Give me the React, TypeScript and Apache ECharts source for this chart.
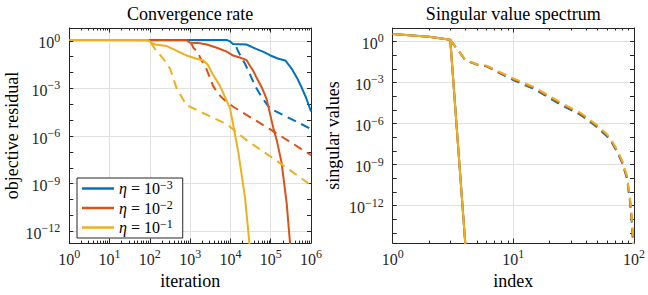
import React, { useEffect, useRef } from 'react';
import * as echarts from 'echarts';

const FONT = 'Liberation Serif';
const BLUE = '#0072BD';
const RED = '#D95319';
const YELLOW = '#EDB120';
const AXIS = '#262626';
const GRIDC = '#e1e1e1';

// ---- Left panel: convergence rate (iteration vs objective residual) ----
const blueSolidIter = [1, 8000, 9800, 11500, 25000, 37000, 66000, 98000, 155000, 230000, 330000, 450000, 590000, 760000, 1000000];
const blueSolidRes = [1.15, 1.15, 0.93, 0.63, 0.59, 0.37, 0.2, 0.12, 0.074, 0.058, 0.018, 0.0046, 0.0011, 2.5e-4, 3.5e-5];
const blueDashIter = [14000, 16000, 23000, 31000, 41000, 60000, 80000, 100000, 300000, 1000000];
const blueDashRes = [0.4, 0.19, 0.036, 0.0072, 0.0014, 2.8e-4, 1e-4, 5.1e-5, 1.3e-5, 2.8e-6];

const redSolidIter = [1, 810, 1000, 1600, 2600, 4600, 8100, 11700, 17000, 25000, 31000, 37000, 45000, 60000, 79000, 115000, 141000, 186000, 250000, 300000, 330000];
const redSolidRes = [1.15, 1.1, 0.76, 0.74, 0.59, 0.37, 0.21, 0.118, 0.089, 0.063, 0.025, 0.0126, 0.0045, 0.00115, 2.2e-4, 3.5e-6, 5.5e-7, 2.1e-8, 5.2e-11, 2e-13, 1e-14];
const redDashIter = [1050, 1200, 1600, 1750, 2600, 3700, 5000, 6600, 11700, 100000, 1000000];
const redDashRes = [0.76, 0.37, 0.18, 0.093, 0.0145, 0.00145, 4.5e-4, 2.2e-4, 7e-5, 2.5e-6, 6.3e-8];

const yellowSolidIter = [1, 89, 112, 135, 263, 470, 810, 1450, 2150, 2800, 3700, 5500, 9800, 12900, 15800, 23000, 29500, 31600];
const yellowSolidRes = [1.15, 1.12, 0.74, 0.59, 0.47, 0.23, 0.12, 0.074, 0.058, 0.029, 0.0072, 0.00145, 5.6e-5, 1.4e-6, 8.7e-8, 1.3e-10, 2e-13, 1e-14];
const yellowDashIter = [105, 135, 215, 316, 380, 470, 810, 1740, 8100, 25000, 141000, 1000000];
const yellowDashRes = [0.8, 0.3, 0.074, 0.018, 0.0046, 8.9e-4, 8.9e-5, 3.5e-5, 5.6e-6, 5.5e-7, 2.7e-8, 8e-10];

// ---- Right panel: singular value spectrum ----
const specSolidIdx = [1, 2, 3, 4];
const specSolidVal = [3.5, 2.15, 1.3, 1.5e-15];
const specDashIdx = [3, 4, 5, 6, 7, 8, 10, 12, 15, 20, 25, 30, 35, 40, 45, 50, 55, 60, 65, 70, 75, 80, 85, 88, 90, 92, 94, 96, 98, 100];
const blueSpecDash = [1.3, 0.043, 0.02, 0.015, 0.0076, 0.004, 0.0015, 7.4e-4, 3.2e-4, 7.1e-5, 2.2e-5, 1e-5, 5e-6, 2.2e-6, 1e-6, 5e-7, 2.2e-7, 1.1e-7, 4.5e-8, 1.4e-8, 4.5e-9, 1.26e-9, 2.2e-10, 8e-11, 1.26e-11, 3.5e-12, 5e-13, 5e-14, 2.5e-15, 1e-16];
const redSpecDash = [1.3, 0.044, 0.0205, 0.016, 0.0083, 0.0045, 0.0017, 8.6e-4, 3.8e-4, 8.5e-5, 2.7e-5, 1.2e-5, 6e-6, 2.7e-6, 1.2e-6, 6e-7, 2.7e-7, 1.35e-7, 5.3e-8, 1.7e-8, 5.3e-9, 1.5e-9, 2.7e-10, 1e-10, 1.6e-11, 4.7e-12, 7e-13, 7e-14, 3.5e-15, 1e-16];
const yellowSpecDash = [1.3, 0.045, 0.021, 0.017, 0.0089, 0.005, 0.002, 0.001, 4.5e-4, 1e-4, 3.2e-5, 1.4e-5, 7.2e-6, 3.2e-6, 1.4e-6, 7e-7, 3.2e-7, 1.6e-7, 6.3e-8, 2e-8, 6.3e-9, 1.8e-9, 3.2e-10, 1.3e-10, 2e-11, 6.3e-12, 1e-12, 1e-13, 5e-15, 1e-16];

// axis limits (decimal exponents)
const leftXDecades = 6;
const rightXDecades = 2;
const leftYRange = [-12.75, 0.81];
const rightYRange = [-14.74, 0.98];

const legendNames = ['η = 10^-3', 'η = 10^-2', 'η = 10^-1'];
const legendExp = ['−3', '−2', '−1'];

const log = (xs: number[], ys: number[]) => xs.map((x, i) => [Math.log10(x), Math.log10(ys[i])]);

const richLabel = {
  b: { fontFamily: FONT, fontSize: 16, lineHeight: 22, color: AXIS },
  s: { fontFamily: FONT, fontSize: 12, lineHeight: 10, verticalAlign: 'top', color: AXIS },
};
const fmt = (v: number) => {
  const n = Math.round(v);
  return `{b|10}{s|${n < 0 ? '−' : ''}${Math.abs(n)}}`;
};
const tickLine = { color: AXIS, width: 1 };
const nameStyle = { fontFamily: FONT, fontSize: 18, color: '#000' };

function xAxes(gi: number, max: number, name: string, title: string) {
  const majors: number[] = [];
  for (let d = 0; d <= max; d++) majors.push(d);
  const minors: number[] = [];
  for (let d = 0; d < max; d++) for (let k = 2; k <= 9; k++) minors.push(d + Math.log10(k));
  const base = { gridIndex: gi, type: 'value', min: 0, max };
  return [
    {
      ...base, position: 'bottom',
      axisLine: { show: true, onZero: false, lineStyle: tickLine },
      axisTick: { show: true, inside: true, length: 4.5, customValues: majors, lineStyle: tickLine },
      axisLabel: { show: true, customValues: majors, formatter: fmt, margin: 5, rich: richLabel, color: AXIS, fontFamily: FONT, fontSize: 16 },
      splitLine: { show: true, lineStyle: { color: GRIDC, width: 1 } },
      name, nameLocation: 'middle', nameGap: 26, nameTextStyle: nameStyle,
    },
    {
      ...base, position: 'bottom',
      axisLine: { show: false, onZero: false },
      axisTick: { show: true, inside: true, length: 2.5, customValues: minors, lineStyle: tickLine },
      axisLabel: { show: false }, splitLine: { show: false },
    },
    {
      ...base, position: 'top',
      axisLine: { show: true, onZero: false, lineStyle: tickLine },
      axisTick: { show: true, inside: true, length: 4.5, customValues: majors, lineStyle: tickLine },
      axisLabel: { show: false }, splitLine: { show: false },
      name: title, nameLocation: 'middle', nameGap: 5, nameTextStyle: nameStyle,
    },
    {
      ...base, position: 'top',
      axisLine: { show: false, onZero: false },
      axisTick: { show: true, inside: true, length: 2.5, customValues: minors, lineStyle: tickLine },
      axisLabel: { show: false }, splitLine: { show: false },
    },
  ];
}

function yAxes(gi: number, range: number[], name: string, nameGap: number) {
  const decades: number[] = [];
  for (let v = Math.ceil(range[0]); v <= Math.floor(range[1]); v++) decades.push(v);
  const labeled = decades.filter((v) => Math.abs(v % 3) === 0);
  const base = { gridIndex: gi, type: 'value', min: range[0], max: range[1] };
  return [
    {
      ...base, position: 'left',
      axisLine: { show: true, onZero: false, lineStyle: tickLine },
      axisTick: { show: true, inside: true, length: 4, customValues: decades, lineStyle: tickLine },
      axisLabel: { show: true, customValues: labeled, formatter: fmt, margin: 9, padding: [4, 0, 0, 0], rich: richLabel, color: AXIS, fontFamily: FONT, fontSize: 16 },
      splitLine: { show: false },
      name, nameLocation: 'middle', nameRotate: 90, nameGap, nameTextStyle: nameStyle,
    },
    {
      ...base, position: 'left',
      axisLine: { show: false, onZero: false },
      axisTick: { show: false, customValues: labeled },
      axisLabel: { show: false },
      splitLine: { show: true, lineStyle: { color: GRIDC, width: 1 } },
    },
    {
      ...base, position: 'right',
      axisLine: { show: true, onZero: false, lineStyle: tickLine },
      axisTick: { show: true, inside: true, length: 4, customValues: decades, lineStyle: tickLine },
      axisLabel: { show: false }, splitLine: { show: false },
    },
  ];
}

function line(name: string, data: number[][], color: string, dashed: boolean, xi: number, yi: number) {
  return {
    type: 'line', name, data, xAxisIndex: xi, yAxisIndex: yi,
    symbol: 'none', showSymbol: false, clip: true,
    lineStyle: { color, width: 2, type: dashed ? [9, 6] : 'solid', cap: 'butt' },
    itemStyle: { color },
  };
}

export default function App() {
  const ref = useRef<HTMLDivElement>(null);
  useEffect(() => {
    document.body.style.margin = '0';
    const chart = echarts.init(ref.current!, undefined, { renderer: 'svg' });
    const option: any = {
      animation: false,
      backgroundColor: '#ffffff',
      grid: [
        { left: 69.3, top: 22.7, width: 241.7, height: 225, containLabel: false },
        { left: 392.7, top: 22.7, width: 242.3, height: 225, containLabel: false },
      ],
      xAxis: [
        ...xAxes(0, leftXDecades, 'iteration', 'Convergence rate'),
        ...xAxes(1, rightXDecades, 'index', 'Singular value spectrum'),
      ],
      yAxis: [
        ...yAxes(0, leftYRange, 'objective residual', 48),
        ...yAxes(1, rightYRange, 'singular values', 51),
      ],
      legend: {
        data: legendNames.map((n) => ({ name: n, icon: 'rect' })),
        orient: 'vertical', left: 77, top: 178,
        itemWidth: 32, itemHeight: 2.5, itemGap: 0.5,
        padding: [1, 10, 1, 5],
        borderColor: AXIS, borderWidth: 1, borderRadius: 0, backgroundColor: '#ffffff',
        selectedMode: false,
        formatter: (n: string) => `{e|η}{b| = 10}{s|${legendExp[legendNames.indexOf(n)]}}`,
        textStyle: {
          fontFamily: FONT, fontSize: 16, lineHeight: 19, color: '#000',
          rich: {
            e: { fontFamily: FONT, fontSize: 16, lineHeight: 19, fontStyle: 'italic', color: '#000' },
            b: { fontFamily: FONT, fontSize: 16, lineHeight: 19, color: '#000' },
            s: { fontFamily: FONT, fontSize: 12, lineHeight: 9, verticalAlign: 'top', color: '#000' },
          },
        },
      },
      series: [
        line(legendNames[0], log(blueSolidIter, blueSolidRes), BLUE, false, 0, 0),
        line('blue dashed', log(blueDashIter, blueDashRes), BLUE, true, 0, 0),
        line(legendNames[1], log(redSolidIter, redSolidRes), RED, false, 0, 0),
        line('red dashed', log(redDashIter, redDashRes), RED, true, 0, 0),
        line(legendNames[2], log(yellowSolidIter, yellowSolidRes), YELLOW, false, 0, 0),
        line('yellow dashed', log(yellowDashIter, yellowDashRes), YELLOW, true, 0, 0),
        line('spec blue', log(specSolidIdx, specSolidVal), BLUE, false, 4, 3),
        line('spec blue dashed', log(specDashIdx, blueSpecDash), BLUE, true, 4, 3),
        line('spec red', log(specSolidIdx, specSolidVal), RED, false, 4, 3),
        line('spec red dashed', log(specDashIdx, redSpecDash), RED, true, 4, 3),
        line('spec yellow', log(specSolidIdx, specSolidVal), YELLOW, false, 4, 3),
        line('spec yellow dashed', log(specDashIdx, yellowSpecDash), YELLOW, true, 4, 3),
      ],
    };
    chart.setOption(option);
    return () => chart.dispose();
  }, []);
  return <div ref={ref} style={{ width: 648, height: 295 }} />;
}
